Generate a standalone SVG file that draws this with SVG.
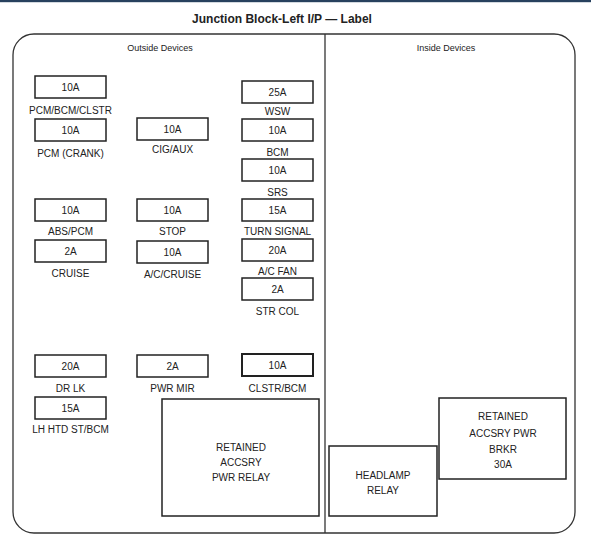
<svg xmlns="http://www.w3.org/2000/svg" width="591" height="541" viewBox="0 0 591 541">
<style>
text{font-family:"Liberation Sans",Arial,sans-serif;fill:#222;text-anchor:middle}
.t{font-size:12px;font-weight:bold}
.h{font-size:9px}
.f{font-size:10px}
.lb{font-size:10px}
.box{fill:#fff;stroke:#222;stroke-width:1.5}
.frame{fill:none;stroke:#333;stroke-width:1.3}
</style>
<rect x="0" y="0" width="591" height="541" fill="#fff"/>
<rect x="0" y="0" width="591" height="2.2" fill="#27415e"/>
<text class="t" x="282" y="23">Junction Block-Left I/P — Label</text>
<g id="frame">
<path class="frame" d="M34,34 H554 A21,21 0 0 1 575,55 V512 A21,21 0 0 1 554,533 H34 A21,21 0 0 1 13,512 V55 A21,21 0 0 1 34,34 Z"/>
<line class="frame" x1="325" y1="34" x2="325" y2="533"/>
<text class="h" x="160" y="51">Outside Devices</text>
<text class="h" x="446" y="51">Inside Devices</text>
</g>
<g id="f1"><rect class="box" x="35" y="76" width="71" height="22"/><text class="f" x="70.5" y="91">10A</text><text class="lb" x="70.5" y="114">PCM/BCM/CLSTR</text></g>
<g id="f2"><rect class="box" x="35" y="119" width="71" height="22"/><text class="f" x="70.5" y="134">10A</text><text class="lb" x="70.5" y="157">PCM (CRANK)</text></g>
<g id="f3"><rect class="box" x="35" y="199" width="71" height="22"/><text class="f" x="70.5" y="214">10A</text><text class="lb" x="70.5" y="235">ABS/PCM</text></g>
<g id="f4"><rect class="box" x="35" y="240" width="71" height="22"/><text class="f" x="70.5" y="255">2A</text><text class="lb" x="70.5" y="277">CRUISE</text></g>
<g id="f5"><rect class="box" x="35" y="355" width="71" height="22"/><text class="f" x="70.5" y="370">20A</text><text class="lb" x="70.5" y="392">DR LK</text></g>
<g id="f6"><rect class="box" x="35" y="397" width="71" height="22"/><text class="f" x="70.5" y="412">15A</text><text class="lb" x="70.5" y="433">LH HTD ST/BCM</text></g>
<g id="f7"><rect class="box" x="137" y="118" width="71" height="22"/><text class="f" x="172.5" y="133">10A</text><text class="lb" x="172.5" y="153">CIG/AUX</text></g>
<g id="f8"><rect class="box" x="137" y="199" width="71" height="22"/><text class="f" x="172.5" y="214">10A</text><text class="lb" x="172.5" y="235">STOP</text></g>
<g id="f9"><rect class="box" x="137" y="241" width="71" height="22"/><text class="f" x="172.5" y="256">10A</text><text class="lb" x="172.5" y="278">A/C/CRUISE</text></g>
<g id="f10"><rect class="box" x="137" y="355" width="71" height="22"/><text class="f" x="172.5" y="370">2A</text><text class="lb" x="172.5" y="392">PWR MIR</text></g>
<g id="f11"><rect class="box" x="242" y="81" width="71" height="22"/><text class="f" x="277.5" y="96">25A</text><text class="lb" x="277.5" y="115">WSW</text></g>
<g id="f12"><rect class="box" x="242" y="119" width="71" height="22"/><text class="f" x="277.5" y="134">10A</text><text class="lb" x="277.5" y="156">BCM</text></g>
<g id="f13"><rect class="box" x="242" y="159" width="71" height="22"/><text class="f" x="277.5" y="174">10A</text><text class="lb" x="277.5" y="196">SRS</text></g>
<g id="f14"><rect class="box" x="242" y="199" width="71" height="22"/><text class="f" x="277.5" y="214">15A</text><text class="lb" x="277.5" y="235">TURN SIGNAL</text></g>
<g id="f15"><rect class="box" x="242" y="239" width="71" height="22"/><text class="f" x="277.5" y="254">20A</text><text class="lb" x="277.5" y="275">A/C FAN</text></g>
<g id="f16"><rect class="box" x="242" y="278" width="71" height="22"/><text class="f" x="277.5" y="293">2A</text><text class="lb" x="277.5" y="315">STR COL</text></g>
<g id="f17"><rect class="box" x="242" y="354" width="71" height="22" style="stroke-width:2"/><text class="f" x="277.5" y="369">10A</text><text class="lb" x="277.5" y="392">CLSTR/BCM</text></g>
<g id="relay"><rect class="box" x="162" y="399" width="157" height="117"/><text class="lb" x="241" y="451">RETAINED</text><text class="lb" x="241" y="466">ACCSRY</text><text class="lb" x="241" y="481">PWR RELAY</text></g>
<g id="headlamp"><rect class="box" x="329" y="446" width="108" height="70"/><text class="lb" x="383" y="479">HEADLAMP</text><text class="lb" x="383" y="494">RELAY</text></g>
<g id="breaker"><rect class="box" x="439" y="398" width="127" height="81"/><text class="lb" x="503" y="420">RETAINED</text><text class="lb" x="503" y="437">ACCSRY PWR</text><text class="lb" x="503" y="453">BRKR</text><text class="lb" x="503" y="468">30A</text></g>
<g id="connectors"></g>
</svg>
